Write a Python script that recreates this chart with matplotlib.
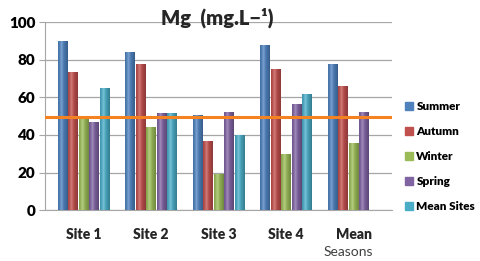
import numpy as np
import matplotlib
matplotlib.use("Agg")
import matplotlib.pyplot as plt
import matplotlib.colors as mcolors
from matplotlib.patches import Patch

# data
sites = ["Site 1", "Site 2", "Site 3", "Site 4", "Mean"]
seasons = ["Summer", "Autumn", "Winter", "Spring", "Mean Sites"]
summer = [90, 84, 50.5, 88, 78]
autumn = [73.5, 78, 37, 75, 66]
winter = [48.5, 44, 19, 30, 35.5]
spring = [47, 51.5, 52, 56.5, 52]
mean_sites = [65, 51.5, 40, 62, np.nan]
reference_level = 49.5

series = [summer, autumn, winter, spring, mean_sites]
colours = ["#4F81BD", "#C0504D", "#9BBB59", "#8064A2", "#4BACC6"]

plt.rcParams['font.family'] = ['Lato', 'DejaVu Sans']

fig = plt.figure(figsize=(4.8, 2.61), dpi=100)
ax = fig.add_axes([0.094, 0.195, 0.723, 0.72])

x = np.arange(len(sites))
width = 0.156


def shade(c):
    # dark-light-dark ramp to fake the cylinder look
    rgb = np.array(mcolors.to_rgb(c))
    t = np.linspace(0, 1, 32)
    k = 1 - 0.4 * (np.abs(t - 0.35) / 0.65) ** 1.3
    light = rgb + (1 - rgb) * 0.25 * np.clip(1 - np.abs(t - 0.35) * 4, 0, 1)[:, None]
    cols = np.clip(light * k[:, None] + rgb * (1 - k[:, None]) * 0.3, 0, 1)
    return cols[None, :, :]


for i, (vals, col) in enumerate(zip(series, colours)):
    pos = x + (i - 2) * width
    bars = ax.bar(pos, vals, width * 0.92, color=col, zorder=3)
    for b in bars:
        h = b.get_height()
        if not np.isfinite(h):
            continue
        im = ax.imshow(shade(col), aspect='auto', zorder=3.5,
                       extent=[b.get_x(), b.get_x() + b.get_width(), 0, h])
        im.set_clip_path(b)

ax.axhline(reference_level, color="#F58220", lw=2.2, zorder=5)

ax.set_xlim(-0.57, 4.57)
ax.set_ylim(0, 100)
ax.set_yticks(range(0, 101, 20))
ax.grid(axis='y', color='#a6a6a6', lw=0.9, zorder=0)
for s in ['top', 'right']:
    ax.spines[s].set_visible(False)
for s in ['left', 'bottom']:
    ax.spines[s].set_color('#a6a6a6')
ax.tick_params(axis='y', length=4, color='#a6a6a6', labelsize=11, pad=3)
ax.tick_params(axis='x', length=0, labelsize=10, pad=13)
for lab in ax.get_yticklabels():
    lab.set_fontweight('heavy')
ax.set_xticks(x)
ax.set_xticklabels(sites, fontweight='heavy', color='#262626')

fig.text(0.725, 0.02, "Seasons", ha='center', fontsize=10, color='#404040')
fig.text(0.452, 0.905, "Mg  (mg.L\u2212\u00b9)", ha='center', fontsize=14.5,
         fontweight='heavy', color='#262626')

handles = [Patch(color=c) for c in colours]
leg = fig.legend(handles, seasons, loc='center left', bbox_to_anchor=(0.843, 0.4),
                 frameon=False, borderpad=0, borderaxespad=0,
                 handlelength=0.7, handleheight=0.7, handletextpad=0.3,
                 labelspacing=1.2, prop={'weight': 'heavy', 'size': 8.5})

fig.savefig("out.png", dpi=100)
